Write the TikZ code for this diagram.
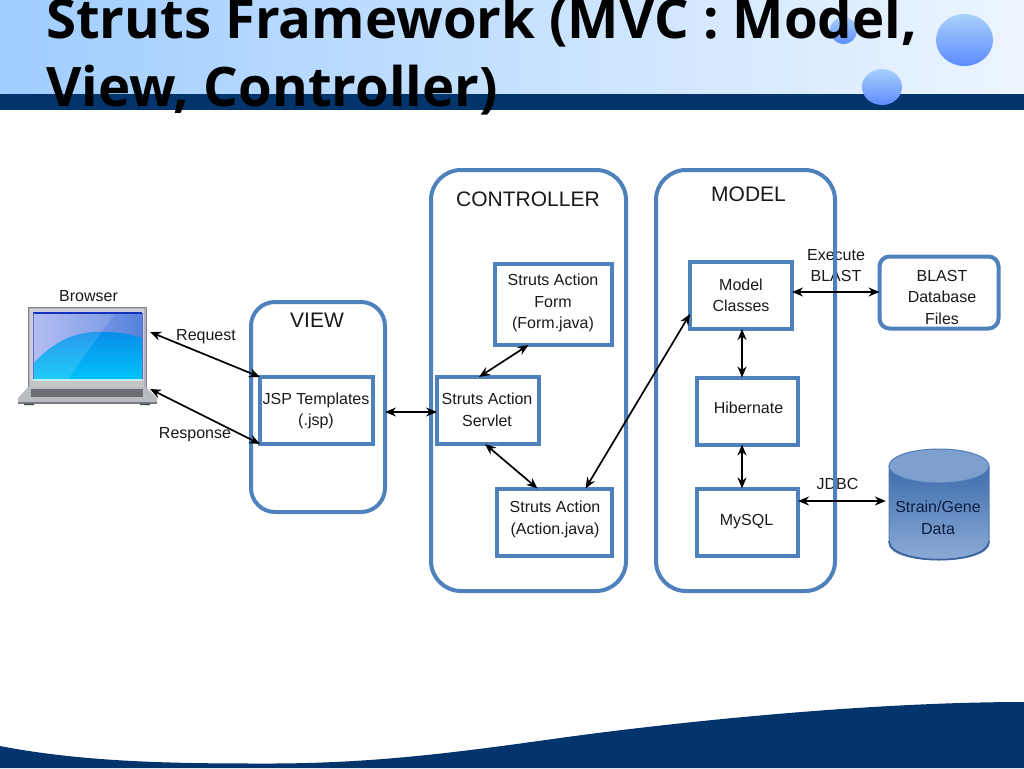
\documentclass[tikz,border=0pt]{standalone}
\usepackage{fontspec}
\setmainfont{Liberation Sans}
\newfontfamily\titlefont{Open Sans}
\usetikzlibrary{arrows.meta,calc}
\definecolor{navy}{HTML}{03346B}
\definecolor{frameblue}{HTML}{4F81BD}
\definecolor{inktext}{HTML}{1A1A1A}
\definecolor{headL}{RGB}{160,205,255}
\definecolor{headR}{RGB}{236,245,255}
\definecolor{ballA}{RGB}{170,208,252}
\definecolor{ballB}{RGB}{92,140,255}
\definecolor{cylA}{RGB}{62,108,172}
\definecolor{cylB}{RGB}{80,128,190}
\definecolor{cylC}{RGB}{140,172,215}
\definecolor{cylEdge}{RGB}{80,125,185}
\definecolor{cylRim}{RGB}{60,100,155}
\definecolor{cylTop}{RGB}{125,160,207}
\definecolor{cylText}{RGB}{12,30,65}
\definecolor{lapBody}{RGB}{176,180,184}
\definecolor{lapEdge}{RGB}{130,134,138}
\definecolor{lapIn}{RGB}{205,208,212}
\definecolor{lapSkyL}{RGB}{170,180,242}
\definecolor{lapSkyR}{RGB}{85,130,220}
\definecolor{lapCyanT}{RGB}{10,140,235}
\definecolor{lapCyanB}{RGB}{0,195,248}
\definecolor{lapLine}{RGB}{20,50,190}
\definecolor{lapBase}{RGB}{185,189,193}
\definecolor{lapChin}{RGB}{196,198,198}
\definecolor{lapKeys}{RGB}{105,110,115}
\definecolor{lapFront}{RGB}{120,124,128}
\definecolor{lapFeet}{RGB}{70,74,78}
\tikzset{
 x=1pt,y=-1pt,
 panel/.style={draw=frameblue,line width=4pt,outer sep=0pt,inner sep=0pt,rounded corners=#1},
 boxnode/.style={draw=frameblue,line width=4pt,outer sep=0pt,inner sep=0pt,align=center,text=inktext,font=\fontsize{16}{21.5}\selectfont},
 lab/.style={inner sep=0pt,align=center,text=inktext,font=\fontsize{16}{21}\selectfont},
 boxlab/.style={lab,font=\fontsize{16}{21.5}\selectfont},
 head/.style={inner sep=0pt,text=black!90,font=\fontsize{21}{24}\selectfont},
 link/.style={line width=1.7pt,black,{Stealth[length=11pt,width=9pt]}-{Stealth[length=11pt,width=9pt]}},
 ballshade/.style={shading angle=40,top color=ballA,bottom color=ballB},
 titletext/.style={anchor=base west,inner sep=0pt,text=black,font=\titlefont\bfseries\fontsize{54.5}{60}\selectfont},
}
\begin{document}
\begin{tikzpicture}
\useasboundingbox (0,0) rectangle (1024,768);
\clip (0,0) rectangle (1024,768);
\fill[white] (0,0) rectangle (1024,768);
% header
\shade[left color=headL,right color=headR] (0,0) rectangle (1024,94);
\fill[navy] (0,94) rectangle (1024,110);
\shade[ballshade] (843.5,30.5) ellipse [x radius=13.5,y radius=13.5];
\shade[ballshade] (964.5,40) ellipse [x radius=28.5,y radius=26];
\shade[ballshade] (882,87) ellipse [x radius=20,y radius=18];
\node[titletext] (t1) at (46,39) {Struts Framework (MVC : Model,};
\node[titletext] (t2) at (46,106.5) {View, Controller)};
% footer wave
\fill[navy] (0,746) .. controls (90,763.5) and (190,763.5) .. (270,763.5)
 .. controls (380,763.5) and (470,750.5) .. (560,738)
 .. controls (680,721.5) and (870,702) .. (1024,702) -- (1024,768) -- (0,768) -- cycle;
% labels under the containers
\node[lab] (exec) at (836,266) {Execute\\BLAST};
\node[lab] (jdbc) at (837.5,483.5) {JDBC};
% containers
\node[panel=24pt,minimum width=134pt,minimum height=210pt] (view) at (318,407) {};
\node[panel=30pt,minimum width=195pt,minimum height=421pt] (ctrl) at (528.5,380.5) {};
\node[panel=30pt,minimum width=179pt,minimum height=421pt] (model) at (745.5,380.5) {};
\node[head] (hview) at (317,320) {VIEW};
\node[head] (hctrl) at (528,199) {CONTROLLER};
\node[head] (hmodel) at (748.5,194) {MODEL};
% boxes
\node[boxnode,minimum width=113pt,minimum height=67pt] (jsp) at (316.5,410.5) {};
\node[boxlab] (jsptext) at (316,411) {JSP Templates\\(.jsp)};
\node[boxnode,minimum width=117pt,minimum height=81pt] (form) at (553.5,304.5) {};
\node[boxlab] (formtext) at (553,303) {Struts Action\\Form\\(Form.java)};
\node[boxnode,minimum width=102pt,minimum height=67pt] (servlet) at (488,410.5) {};
\node[boxlab] (servlettext) at (487,410) {Struts Action\\Servlet};
\node[boxnode,minimum width=115pt,minimum height=67pt] (action) at (554.5,522) {};
\node[boxlab] (actiontext) at (555,519.5) {Struts Action\\(Action.java)};
\node[boxnode,minimum width=102pt,minimum height=67pt] (classes) at (741,295.5) {};
\node[boxlab] (classestext) at (741,295.5) {Model\\Classes};
\node[boxnode,minimum width=101pt,minimum height=67pt] (hib) at (747.5,411) {};
\node[lab] (hibtext) at (748.5,408) {Hibernate};
\node[boxnode,minimum width=101pt,minimum height=67pt] (mysql) at (747.5,522) {};
\node[lab] (mysqltext) at (746.5,522) {MySQL};
\node[boxnode,rounded corners=10pt,minimum width=119pt,minimum height=72pt] (blast) at (939,292.5) {};
\node[boxlab] (blasttext) at (942,297) {BLAST\\Database\\Files};
% cylinder
\shade[top color=cylA,middle color=cylB,bottom color=cylC,draw=cylEdge,line width=1pt]
 (889,466) -- (889,543) .. controls (889,553) and (911,560) .. (939,560) .. controls (967,560) and (989,553) .. (989,543) -- (989,466) -- cycle;
\draw[cylRim,line width=1.5pt] (889,541) .. controls (889,552) and (911,559.5) .. (939,559.5) .. controls (967,559.5) and (989,552) .. (989,541);
\fill[cylTop,draw=cylEdge,line width=1pt] (939,466) ellipse [x radius=50,y radius=17];
\node[inner sep=0pt,minimum width=100pt,minimum height=111pt] (cyl) at (939,504.5) {};
\node[inner sep=0pt,align=center,text=cylText,font=\fontsize{16}{21.5}\selectfont] (cyllabel) at (938,518) {Strain/Gene\\Data};
% laptop
\fill[lapBody,draw=lapEdge,line width=.6pt] (28,307) -- (146,307) -- (146,388) -- (28,388) -- cycle;
\fill[lapIn] (30,309) rectangle (144,387);
\shade[left color=lapSkyL,right color=lapSkyR] (33,313) rectangle (142,379);
\shade[top color=lapCyanT,bottom color=lapCyanB] (33,379) -- (33,364) .. controls (50,345) and (70,333) .. (95,332) .. controls (115,331) and (130,334) .. (142,338) -- (142,379) -- cycle;
\fill[white,opacity=.13] (33,313) -- (115,313) -- (68,379) -- (33,379) -- cycle;
\draw[lapLine,line width=1.8pt] (33,313) -- (142,313);
\draw[lapLine!70!white,line width=.5pt] (33,313) -- (33,379) (142,313) -- (142,379);
\fill[white!75!lapCyanB] (33,379) rectangle (142,380.5);
\fill[lapChin] (30,381) rectangle (144,387);
\fill[lapBase] (28,387) -- (146,387) -- (157,398) -- (157,402) -- (18,402) -- (18,398) -- cycle;
\fill[lapKeys] (31,389) rectangle (143,397);
\fill[lapFront] (18,401.5) rectangle (157,403.5);
\fill[lapFeet] (24,403.5) rectangle (34,405) (140,403.5) rectangle (150,405);
\coordinate (lapA) at (150,332);
\coordinate (lapB) at (150,389);
\node[lab] (browser) at (88.5,296) {Browser};
\node[lab] (req) at (206,336.5) {Request};
\node[lab] (resp) at (195,434.5) {Response};
% connectors
\draw[link] (lapA) -- (jsp.north west);
\draw[link] (lapB) -- (jsp.south west);
\draw[link] ([yshift=-5pt]view.east) -- ([yshift=-1.5pt]servlet.west);
\draw[link] ([xshift=-9pt]servlet.north) -- ([xshift=-25pt]form.south);
\draw[link] ([xshift=-3pt]servlet.south) -- ([xshift=-17pt]action.north);
\draw[link] ([xshift=31pt]action.north) -- ([yshift=-18.5pt]classes.west);
\draw[link] ([xshift=1pt]classes.south) -- ([xshift=-5.5pt]hib.north);
\draw[link] ([xshift=-5.5pt]hib.south) -- ([xshift=-5.5pt]mysql.north);
\draw[link] ([yshift=3.5pt]classes.east) -- ([yshift=0.5pt]blast.west);
\draw[link] ([yshift=21pt]mysql.east) -- ([xshift=-3pt,yshift=3.5pt]cyl.west);
\end{tikzpicture}
\end{document}
